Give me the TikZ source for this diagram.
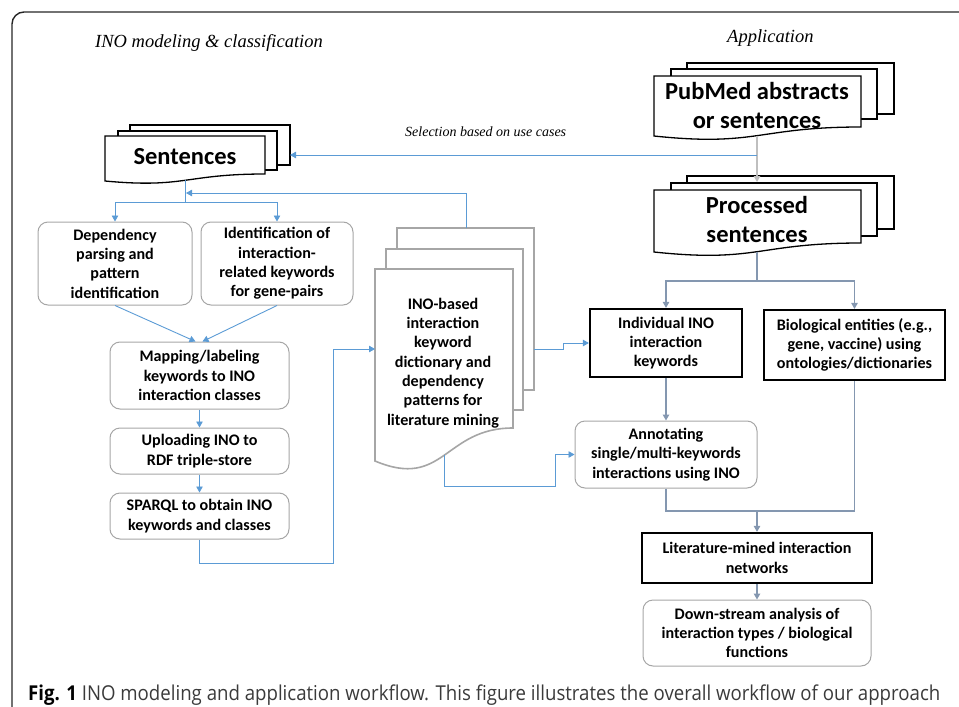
\documentclass[tikz,border=0pt]{standalone}
\usepackage{graphicx}
\usepackage{fontspec}
\setmainfont{Carlito}
\newfontfamily\capfont{Open Sans}
\newfontfamily\serifit{Liberation Serif}
\usetikzlibrary{arrows.meta}
\definecolor{cblue}{HTML}{5B9BD5}
\definecolor{cslate}{HTML}{8497B0}
\definecolor{clgray}{HTML}{BFBFBF}
\definecolor{cbox}{HTML}{A6A6A6}
\definecolor{ccap}{HTML}{3A3A3A}
\newcommand\boxfont{\fontsize{16.1}{19.3}\selectfont\bfseries}
\newcommand\docfont{\fontsize{24.5}{29}\selectfont\bfseries}
\newcommand\mydoc[7]{\path[#7] (#1,#2) -- (#3,#2) -- (#3,#4) .. controls ({(#1+#3)/2},#4) and ({(#1+#3)/2},#5) .. (#1,#6) -- cycle;}
\tikzset{
  rbox/.style={draw=cbox, line width=1pt, rounded corners=10, fill=white, align=center, font=\boxfont, inner sep=0pt},
  kbox/.style={draw=black, line width=2.2pt, fill=white, align=center, font=\boxfont, inner sep=0pt},
  tip/.style={-{Triangle[length=6pt,width=6.5pt]}},
  bluearrow/.style={draw=cblue, line width=0.9pt, tip},
  blueline/.style={draw=cblue, line width=0.9pt},
  slatearrow/.style={draw=cslate, line width=1.2pt, tip},
  slateline/.style={draw=cslate, line width=1.2pt},
  blackdoc/.style={draw=black, line width=1.3pt, fill=white},
  graydoc/.style={draw=cbox, line width=1.6pt, fill=white},
  doctext/.style={align=center, font=\docfont, inner sep=0pt},
  itext/.style={font=\serifit\itshape, inner sep=0pt, anchor=base west},
}
\begin{document}
\begin{tikzpicture}[x=1pt,y=-1pt]
\useasboundingbox (0,0) rectangle (959,707);
% frame
\draw[line width=1.4pt, draw=black!85, rounded corners=12] (12,707) -- (12,12) -- (959,12);
% headings
\node[itext, font=\serifit\itshape\fontsize{18.5}{22}\selectfont] (t1) at (95,47) {INO modeling \& classification};
\node[itext, font=\serifit\itshape\fontsize{18.5}{22}\selectfont] (t2) at (727,42) {Application};
\node[itext, font=\serifit\itshape\fontsize{14}{17}\selectfont] (t3) at (405,136) {Selection based on use cases};

% Sentences stack
\path[blackdoc] (130,125) rectangle (290,165);
\path[blackdoc] (118,131) rectangle (277,170);
\mydoc{105}{136}{265}{174}{188.5}{181}{blackdoc}
\node[doctext] (sent) at (185,157) {Sentences};
\coordinate (sentb) at (185,180.3);
\coordinate (sentR) at (290,155);

% PubMed stack
\path[blackdoc] (687,63) rectangle (894,114);
\path[blackdoc] (671,69) rectangle (877,119);
\mydoc{654}{76}{861}{127}{146.9}{136}{blackdoc}
\node[doctext] (pub) at (757,105) {PubMed abstracts\\or sentences};
\coordinate (pubb) at (757,135.6);

% Processed stack
\path[blackdoc] (687,176) rectangle (894,229);
\path[blackdoc] (671,183) rectangle (877,236);
\mydoc{654}{190}{861}{243}{263}{252}{blackdoc}
\node[doctext] (proc) at (757,219) {Processed\\sentences};
\coordinate (proct) at (757,182);
\coordinate (procb) at (757,251.6);

% INO dictionary stack
\path[graydoc] (397,228) rectangle (534,390);
\path[graydoc] (386,249) rectangle (523,410);
\mydoc{375}{269}{513}{428}{490}{461}{graydoc}
\node[align=center, font=\boxfont, inner sep=0pt] (ino) at (443,363) {INO-based\\interaction\\keyword\\dictionary and\\dependency\\patterns for\\literature mining};
\coordinate (inotop) at (466,228);
\coordinate (inoL) at (375,349);
\coordinate (inoR) at (534,349);
\coordinate (inob) at (444,455.4);

% left boxes
\node[rbox, minimum width=154, minimum height=83] (dep) at (115,263.5) {Dependency\\parsing and\\pattern\\identification};
\node[rbox, minimum width=152, minimum height=83] (ident) at (277,263.5) {Identification of\\interaction-\\related keywords\\for gene-pairs};
\node[rbox, minimum width=179, minimum height=67] (map) at (199.5,375.5) {Mapping/labeling\\keywords to INO\\interaction classes};
\node[rbox, minimum width=179, minimum height=46] (upl) at (199.5,451) {Uploading INO to\\RDF triple-store};
\node[rbox, minimum width=179, minimum height=46] (spq) at (199.5,516) {SPARQL to obtain INO\\keywords and classes};

% right boxes
\node[kbox, minimum width=152, minimum height=68] (ind) at (666,343) {Individual INO\\interaction\\keywords};
\node[kbox, minimum width=181, minimum height=70] (bio) at (854.5,345) {Biological entities (e.g.,\\gene, vaccine) using\\ontologies/dictionaries};
\node[rbox, minimum width=182, minimum height=67] (ann) at (666,454.5) {Annotating\\single/multi-keywords\\interactions using INO};
\node[kbox, minimum width=230, minimum height=50] (lit) at (757,558) {Literature-mined interaction\\networks};
\node[rbox, minimum width=228, minimum height=66] (down) at (757,633) {Down-stream analysis of\\interaction types / biological\\functions};

% connectors
\draw[draw=clgray, line width=1.2pt, tip] (pubb) -- (proct);
\coordinate (selj) at (757,155);
\draw[bluearrow] (selj) -- (sentR);
\coordinate (sj) at (185,202);
\draw[blueline] (sentb) -- (sj);
\draw[bluearrow] (sj) -| (dep.north);
\draw[bluearrow] (sj) -| (ident.north);
\coordinate (fb) at (186,193);
\draw[bluearrow] (inotop) |- (fb);
\draw[bluearrow] (dep.south) -- ([xshift=-4]map.north);
\draw[bluearrow] (ident.south) -- ([xshift=3]map.north);
\draw[bluearrow] (map.south) -- (upl.north);
\draw[bluearrow] (upl.south) -- (spq.north);
\coordinate (k1) at (333,563);
\draw[bluearrow] (spq.south) |- (k1) |- (inoL);
\coordinate (k2) at (563,349);
\draw[bluearrow] (inoR) -- (k2) |- (ind.west);
\coordinate (k3) at (555,486);
\draw[bluearrow] (inob) |- (k3) |- (ann.west);
\coordinate (pj) at (757,281);
\draw[slateline] (procb) -- (pj);
\draw[slatearrow] (pj) -| (ind.north);
\draw[slatearrow] (pj) -| (bio.north);
\draw[slatearrow] (ind.south) -- (ann.north);
\coordinate (jn) at (757,511);
\draw[slateline] (ann.south) |- (jn);
\draw[slateline] (bio.south) |- (jn);
\draw[slatearrow] (jn) -- (lit.north);
\draw[slatearrow] (lit.south) -- (down.north);

% caption
\node[anchor=base west, inner sep=0pt, font=\capfont\fontsize{20.5}{24}\selectfont, text=ccap] (cap) at (28,700) {\resizebox{912pt}{\height}{\textcolor{black}{\textbf{Fig. 1}} INO modeling and application workflow. This figure illustrates the overall workflow of our approach}};
\end{tikzpicture}
\end{document}
